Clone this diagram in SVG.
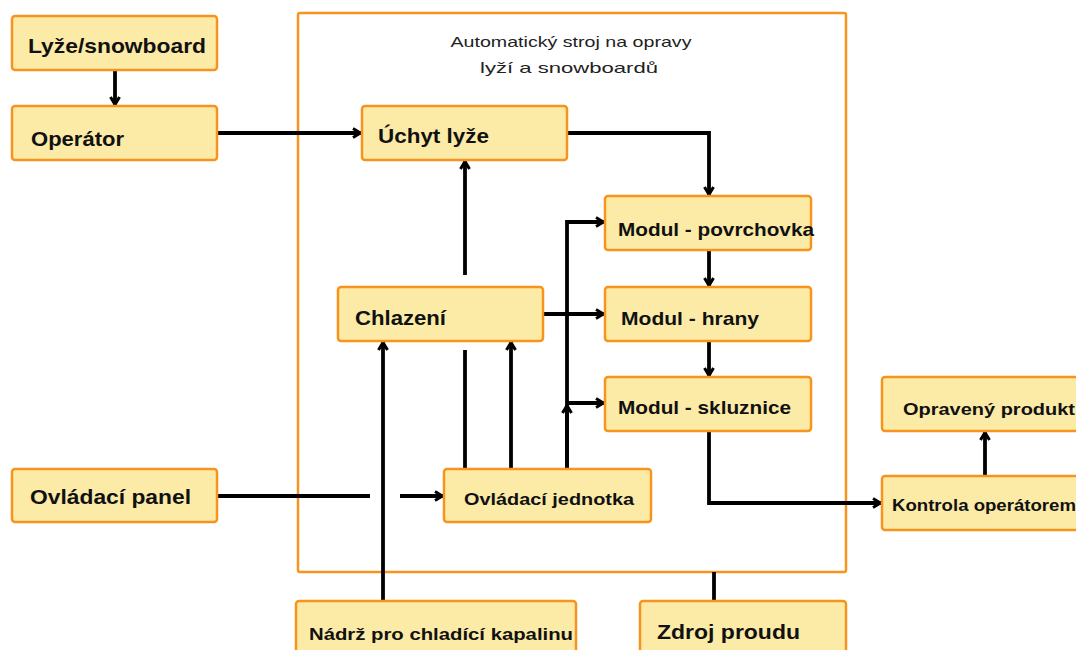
<svg xmlns="http://www.w3.org/2000/svg" width="1076" height="650" viewBox="0 0 1076 650">
<style>
.box{fill:#FCEBA7;stroke:#F7941D;stroke-width:2.5}
.cont{fill:none;stroke:#F7941D;stroke-width:2.5}
.t{font-family:"Liberation Sans",Arial,sans-serif;font-weight:bold;fill:#111}
.title{font-family:"Liberation Sans",Arial,sans-serif;font-size:15px;fill:#222}
.c{fill:none;stroke:#000;stroke-width:3.8}
</style>
<defs>
<marker id="ah" viewBox="0 0 12 12" refX="11" refY="6" markerWidth="12" markerHeight="12" markerUnits="userSpaceOnUse" orient="auto">
<path d="M3,1.5 L10.5,6 L3,10.5" fill="none" stroke="#000" stroke-width="3"/>
</marker>
</defs>
<rect fill="#fff" x="0" y="0" width="1076" height="650"/>
<g id="container">
<rect class="cont" x="298" y="13" width="548" height="559" rx="2"/>
<text class="title" x="571" y="47" text-anchor="middle" textLength="241" lengthAdjust="spacingAndGlyphs">Automatický stroj na opravy</text>
<text class="title" x="569" y="73" text-anchor="middle" textLength="178" lengthAdjust="spacingAndGlyphs">lyží a snowboardů</text>
</g>
<g id="connectors">
<path class="c" d="M115,70 V105" marker-end="url(#ah)"/>
<path class="c" d="M217,133 H361" marker-end="url(#ah)"/>
<path class="c" d="M567,133 H709 V195" marker-end="url(#ah)"/>
<path class="c" d="M709,250 V286" marker-end="url(#ah)"/>
<path class="c" d="M709,341 V376" marker-end="url(#ah)"/>
<path class="c" d="M709,431 V503 H881" marker-end="url(#ah)"/>
<path class="c" d="M985,476 V432" marker-end="url(#ah)"/>
<path class="c" d="M465,275 V161" marker-end="url(#ah)"/>
<path class="c" d="M465,469 V350"/>
<path class="c" d="M511,469 V342" marker-end="url(#ah)"/>
<path class="c" d="M383,601 V342" marker-end="url(#ah)"/>
<path class="c" d="M567,469 V222 H604" marker-end="url(#ah)"/>
<path class="c" d="M567,469 V405" marker-end="url(#ah)"/>
<path class="c" d="M567,403 H604" marker-end="url(#ah)"/>
<path class="c" d="M543,314 H604" marker-end="url(#ah)"/>
<path class="c" d="M217,496 H370"/>
<path class="c" d="M400,496 H443" marker-end="url(#ah)"/>
<path class="c" d="M714,572 V601"/>
</g>
<g id="lyze"><rect class="box" x="12" y="16" width="205" height="54" rx="3"/><text class="t" x="28" y="53" font-size="21" textLength="178" lengthAdjust="spacingAndGlyphs">Lyže/snowboard</text></g>
<g id="operator"><rect class="box" x="12" y="106" width="205" height="54" rx="3"/><text class="t" x="31" y="146" font-size="21" textLength="93" lengthAdjust="spacingAndGlyphs">Operátor</text></g>
<g id="uchyt"><rect class="box" x="362" y="106" width="205" height="54" rx="3"/><text class="t" x="378" y="143" font-size="21" textLength="111" lengthAdjust="spacingAndGlyphs">Úchyt lyže</text></g>
<g id="povrchovka"><rect class="box" x="605" y="196" width="206" height="54" rx="3"/><text class="t" x="618" y="236" font-size="19" textLength="196" lengthAdjust="spacingAndGlyphs">Modul - povrchovka</text></g>
<g id="chlazeni"><rect class="box" x="338" y="287" width="205" height="54" rx="3"/><text class="t" x="355" y="325" font-size="21" textLength="91" lengthAdjust="spacingAndGlyphs">Chlazení</text></g>
<g id="hrany"><rect class="box" x="605" y="287" width="206" height="54" rx="3"/><text class="t" x="621" y="325" font-size="19" textLength="138" lengthAdjust="spacingAndGlyphs">Modul - hrany</text></g>
<g id="skluznice"><rect class="box" x="605" y="377" width="206" height="54" rx="3"/><text class="t" x="618" y="414" font-size="19" textLength="173" lengthAdjust="spacingAndGlyphs">Modul - skluznice</text></g>
<g id="jednotka"><rect class="box" x="444" y="469" width="207" height="53" rx="3"/><text class="t" x="464" y="505" font-size="17" textLength="170" lengthAdjust="spacingAndGlyphs">Ovládací jednotka</text></g>
<g id="panel"><rect class="box" x="12" y="469" width="205" height="53" rx="3"/><text class="t" x="30" y="504" font-size="21" textLength="161" lengthAdjust="spacingAndGlyphs">Ovládací panel</text></g>
<g id="opraveny"><rect class="box" x="882" y="377" width="200" height="54" rx="3"/><text class="t" x="903" y="415" font-size="17" textLength="172" lengthAdjust="spacingAndGlyphs">Opravený produkt</text></g>
<g id="kontrola"><rect class="box" x="882" y="476" width="200" height="54" rx="3"/><text class="t" x="892" y="511" font-size="17" textLength="184" lengthAdjust="spacingAndGlyphs">Kontrola operátorem</text></g>
<g id="nadrz"><rect class="box" x="296" y="601" width="280" height="60" rx="3"/><text class="t" x="309" y="640" font-size="17" textLength="264" lengthAdjust="spacingAndGlyphs">Nádrž pro chladící kapalinu</text></g>
<g id="zdroj"><rect class="box" x="640" y="601" width="206" height="60" rx="3"/><text class="t" x="657" y="639" font-size="21" textLength="143" lengthAdjust="spacingAndGlyphs">Zdroj proudu</text></g>
</svg>
